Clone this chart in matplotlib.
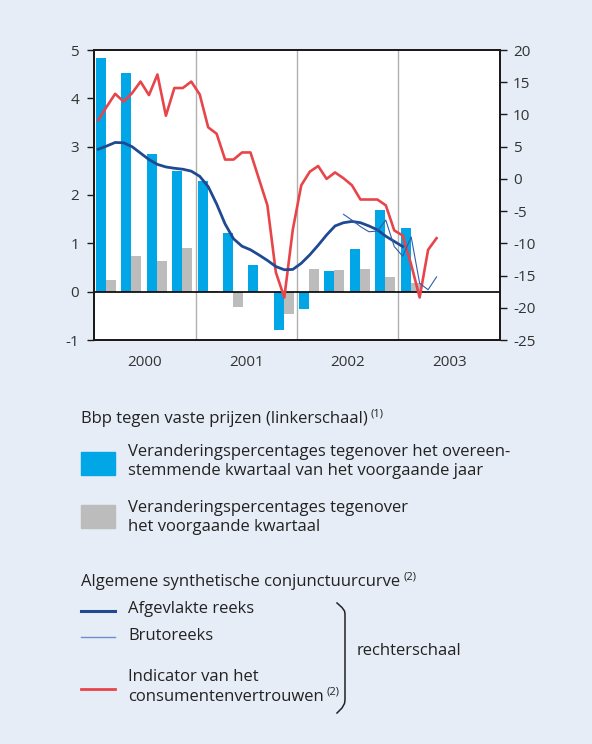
import numpy as np
import matplotlib.pyplot as plt
from matplotlib.patches import Rectangle
from matplotlib.lines import Line2D

W, H = 592, 744
plt.rcParams['font.family'] = ['Open Sans', 'DejaVu Sans']
plt.rcParams['axes.unicode_minus'] = False

# ---- data ----
years = ['2000', '2001', '2002', '2003']
# quarterly GDP growth, 2000Q1 .. 2003Q1 (left scale)
bbp_yoy = [4.83, 4.53, 2.85, 2.50, 2.28, 1.22, 0.56, -0.79, -0.36, 0.42, 0.89, 1.68, 1.31]
bbp_qoq = [0.24, 0.73, 0.63, 0.91, 0.02, -0.32, 0.0, -0.47, 0.46, 0.44, 0.46, 0.30, 0.17]
# monthly series from Jan 2000 (right scale)
afgevlakt = [4.6, 5.1, 5.65, 5.6, 5.0, 4.0, 3.0, 2.25, 1.85, 1.65, 1.5, 1.2,
             0.4, -1.2, -3.9, -7.0, -9.3, -10.45, -11.0, -11.8, -12.65, -13.6, -14.1, -14.05,
             -13.1, -11.8, -10.3, -8.7, -7.3, -6.8, -6.6, -6.8, -7.3, -7.9, -8.9, -9.7,
             -10.5]
bruto_start = 29  # June 2002
bruto = [-5.5, -6.4, -7.4, -8.2, -8.1, -6.4, -10.5, -12.0, -9.0, -16.2, -17.2, -15.2]
consument = [9.1, 11.2, 13.2, 12.0, 13.3, 15.1, 13.0, 16.2, 9.8, 14.1, 14.1, 15.1,
             13.1, 8.0, 7.0, 3.0, 3.0, 4.1, 4.1, 0.0, -4.1, -14.5, -18.4, -7.9,
             -1.0, 1.1, 2.0, 0.0, 1.0, 0.1, -1.0, -3.2, -3.2, -3.2, -4.1, -8.0,
             -8.8, -13.3, -18.4, -11.0, -9.2]

bg = '#e6edf6'
c_blue = '#00a6e6'
c_grey = '#bcbcbc'
c_dark = '#1f4a93'
c_thin = '#2f5da8'
c_red = '#e8454b'
c_txt = '#222222'
fs = 12

fig = plt.figure(figsize=(W / 100, H / 100), dpi=100, facecolor=bg)


def fx(px):
    return px / W


def fy(py):
    return 1 - py / H


ax = fig.add_axes([fx(94), fy(340), 406 / W, 290 / H])
ax.set_facecolor('white')
ax2 = ax.twinx()

q = np.arange(len(bbp_yoy)) * 3
ax.bar(q + 0.25, bbp_yoy, width=1.18, align='edge', color=c_blue, zorder=2)
ax.bar(q + 1.43, bbp_qoq, width=1.18, align='edge', color=c_grey, zorder=2)
ax.axhline(0, color='black', lw=1.2, zorder=3)
for xv in (12, 24, 36):
    ax.axvline(xv, color='#b0b0b0', lw=1.0, zorder=1)

m = np.arange(len(consument)) + 0.5
ax2.plot(m, consument, color=c_red, lw=1.9)
ax2.plot(np.arange(len(afgevlakt)) + 0.5, afgevlakt, color=c_dark, lw=2.0)
ax2.plot(np.arange(len(bruto)) + bruto_start + 0.5, bruto, color=c_thin, lw=0.8)

ax.set_xlim(0, 48)
ax.set_ylim(-1, 5)
ax2.set_ylim(-25, 20)
ax.set_yticks(range(-1, 6))
ax2.set_yticks(range(-25, 21, 5))
ax.set_xticks([6, 18, 30, 42])
ax.set_xticklabels(years)

for a in (ax, ax2):
    for s in a.spines.values():
        s.set_color('#1a1a1a')
        s.set_linewidth(1.3)
ax.tick_params(axis='y', direction='out', length=5.3, width=1, color='#1a1a1a',
               labelsize=11, labelcolor='#333333', pad=5.5)
ax2.tick_params(axis='y', direction='out', length=5.3, width=1, color='#1a1a1a',
                labelsize=11, labelcolor='#333333', pad=4)
ax.tick_params(axis='x', length=0, labelsize=11, labelcolor='#333333', pad=10.5)

# ---- legend ----
fig.canvas.draw()
renderer = fig.canvas.get_renderer()


def text_sup(x, y, s, sup):
    t = fig.text(fx(x), fy(y), s, fontsize=fs, color=c_txt, va='center', ha='left')
    bb = t.get_window_extent(renderer)
    fig.text((bb.x1 + 3) / W, fy(y - 5), sup, fontsize=8, color=c_txt, va='center', ha='left')


text_sup(81, 419, 'Bbp tegen vaste prijzen (linkerschaal)', '(1)')
fig.add_artist(Rectangle((fx(81), fy(475)), 34 / W, 23 / H, color=c_blue, transform=fig.transFigure))
fig.text(fx(128), fy(452), 'Veranderingspercentages tegenover het overeen-', fontsize=fs, color=c_txt, va='center')
fig.text(fx(128), fy(471), 'stemmende kwartaal van het voorgaande jaar', fontsize=fs, color=c_txt, va='center')
fig.add_artist(Rectangle((fx(81), fy(528)), 34 / W, 23 / H, color=c_grey, transform=fig.transFigure))
fig.text(fx(128), fy(508), 'Veranderingspercentages tegenover', fontsize=fs, color=c_txt, va='center')
fig.text(fx(128), fy(527), 'het voorgaande kwartaal', fontsize=fs, color=c_txt, va='center')

text_sup(81, 582, 'Algemene synthetische conjunctuurcurve', '(2)')
fig.add_artist(Line2D([fx(81), fx(115)], [fy(610.5), fy(610.5)], color=c_dark, lw=2.2, transform=fig.transFigure))
fig.text(fx(128), fy(609), 'Afgevlakte reeks', fontsize=fs, color=c_txt, va='center')
fig.add_artist(Line2D([fx(81), fx(115)], [fy(637), fy(637)], color='#6f8fc9', lw=1.0, transform=fig.transFigure))
fig.text(fx(128), fy(636), 'Brutoreeks', fontsize=fs, color=c_txt, va='center')
fig.add_artist(Line2D([fx(81), fx(115)], [fy(689), fy(689)], color=c_red, lw=2.0, transform=fig.transFigure))
fig.text(fx(128), fy(677), 'Indicator van het', fontsize=fs, color=c_txt, va='center')
text_sup(128, 697, 'consumentenvertrouwen', '(2)')

# closing bracket
bx = [337, 342, 344.5, 345, 345, 344.5, 342, 337]
by = [603, 607.5, 611, 614, 700, 703.5, 708, 713]
fig.add_artist(Line2D([fx(v) for v in bx], [fy(v) for v in by], color=c_txt, lw=1.1,
                      transform=fig.transFigure))
fig.text(fx(357), fy(651), 'rechterschaal', fontsize=fs, color=c_txt, va='center')

fig.savefig('out.png', dpi=100, facecolor=bg)
